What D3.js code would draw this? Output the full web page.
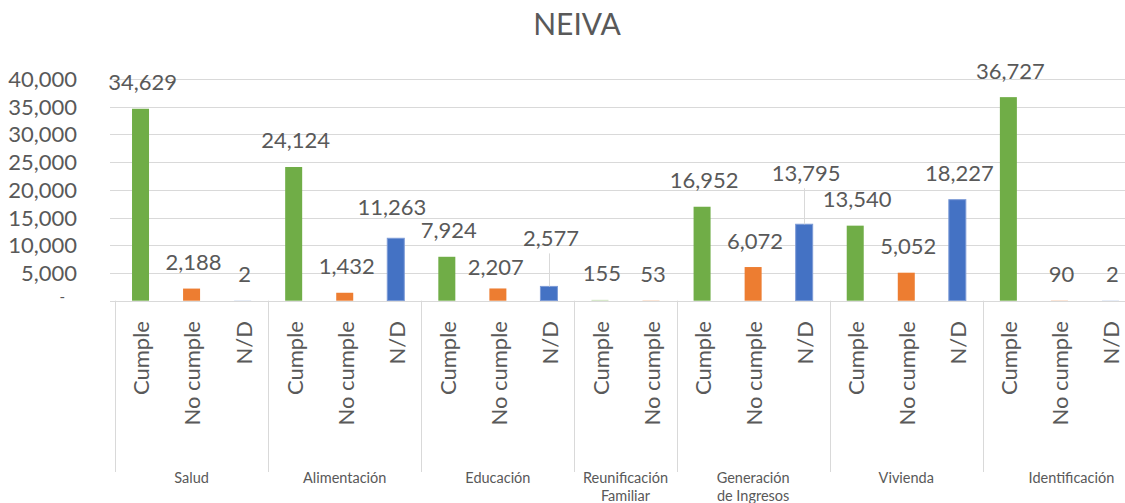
<!DOCTYPE html>
<html>
<head>
<meta charset="utf-8">
<script src="https://cdn.jsdelivr.net/npm/d3@7/dist/d3.min.js"></script>
<style>
  html, body { margin: 0; padding: 0; background: #fff; }
  svg { display: block; font-family: Lato, "Open Sans", sans-serif; }
</style>
</head>
<body>
<svg id="chart" width="1125" height="503"></svg>
<script>
// ---- data ----
const title = "NEIVA";
const categories = ["Salud", "Alimentación", "Educación", "Reunificación Familiar", "Generación de Ingresos", "Vivienda", "Identificación"];
const categoryLines = [["Salud"], ["Alimentación"], ["Educación"], ["Reunificación", "Familiar"], ["Generación", "de Ingresos"], ["Vivienda"], ["Identificación"]];
const statuses = ["Cumple", "No cumple", "N/D"];
const cumple   = [34629, 24124, 7924, 155, 16952, 13540, 36727];
const noCumple = [2188, 1432, 2207, 53, 6072, 5052, 90];
const nd       = [2, 11263, 2577, null, 13795, 18227, 2];
const yTicks   = [0, 5000, 10000, 15000, 20000, 25000, 30000, 35000, 40000];

// ---- styling ----
const colors = { "Cumple": "#70AD47", "No cumple": "#ED7D31", "N/D": "#4472C4" };
const textColor = "#595959";
const gridColor = "#D9D9D9";
// manual label adjustments (as moved in the original)
const labelNudge = {
  "Alimentación|N/D": { dx: -6, dy: -4.5 },
  "Educación|No cumple": { dx: -4, dy: 5.5 },
  "Educación|N/D": { dx: 0, dy: -21.5, leader: true },
  "Generación de Ingresos|N/D": { dx: 0, dy: -24.5, leader: true }
};
const groupLabelNudge = { "Identificación": 12 };

// ---- build flat bars ----
const seriesVals = { "Cumple": cumple, "No cumple": noCumple, "N/D": nd };
const bars = [];
categories.forEach((c, i) => {
  statuses.forEach(s => {
    const v = seriesVals[s][i];
    if (v !== null && v !== undefined) bars.push({ cat: c, ci: i, status: s, value: v, key: c + "|" + s });
  });
});

const svg = d3.select("#chart");
const plotLeft = 115, plotRight = 1136, plotTop = 79, plotBottom = 300.7;

const x = d3.scaleBand().domain(bars.map(d => d.key)).range([plotLeft, plotRight])
  .paddingInner(0.667).paddingOuter(0.3335);
const y = d3.scaleLinear().domain([0, 40000]).range([plotBottom, plotTop]);

// title
svg.append("text").attr("x", 577).attr("y", 35).attr("text-anchor", "middle")
  .attr("font-size", 30).attr("fill", textColor).text(title);

// gridlines
svg.append("g").selectAll("line").data(yTicks.filter(t => t > 0)).join("line")
  .attr("x1", 110).attr("x2", 1125)
  .attr("y1", d => Math.round(y(d)) + 0.5).attr("y2", d => Math.round(y(d)) + 0.5)
  .attr("stroke", gridColor).attr("stroke-width", 1);

// y axis labels
const yAxis = d3.axisLeft(y).tickValues(yTicks).tickSize(0).tickPadding(0)
  .tickFormat(d => d === 0 ? "-" : d3.format(",")(d));
const yg = svg.append("g").attr("transform", "translate(77,0)").call(yAxis);
yg.select(".domain").remove();
yg.selectAll("text").attr("font-size", 22).attr("fill", textColor)
  .attr("font-family", "Lato, 'Open Sans', sans-serif").attr("dy", "0.34em");
yg.selectAll(".tick").filter(d => d === 0).select("text")
  .attr("x", -12).attr("font-size", 15).attr("dy", "0.05em");

// bars
svg.append("g").selectAll("rect").data(bars).join("rect")
  .attr("x", d => x(d.key)).attr("width", x.bandwidth())
  .attr("y", d => y(d.value)).attr("height", d => Math.max(0.5, y(0) - y(d.value)))
  .attr("fill", d => colors[d.status])
  .attr("fill-opacity", d => (y(0) - y(d.value)) < 1 ? 0.4 : 1)
  .attr("stroke", d => d.status === "N/D" && (y(0) - y(d.value)) > 2 ? "#7d9bd6" : "none")
  .attr("stroke-width", 1);

// axis line
svg.append("line").attr("x1", 110).attr("x2", 1125)
  .attr("y1", Math.round(plotBottom) + 0.5).attr("y2", Math.round(plotBottom) + 0.5)
  .attr("stroke", gridColor).attr("stroke-width", 1.2);

// leader lines + data labels
const lbl = svg.append("g");
bars.forEach(d => {
  const n = labelNudge[d.key] || { dx: 0, dy: 0 };
  const cx = x(d.key) + x.bandwidth() / 2;
  const base = y(d.value) - 18.5 + n.dy;
  if (n.leader) {
    lbl.append("line").attr("x1", Math.round(cx) + 0.5).attr("x2", Math.round(cx) + 0.5)
      .attr("y1", base + 7).attr("y2", y(d.value))
      .attr("stroke", gridColor).attr("stroke-width", 1);
  }
  lbl.append("text").attr("x", cx + 2 + n.dx).attr("y", base)
    .attr("text-anchor", "middle").attr("font-size", 22).attr("fill", textColor)
    .text(d3.format(",")(d.value));
});

// rotated category labels
svg.append("g").selectAll("text").data(bars).join("text")
  .attr("transform", d => `translate(${x(d.key) + x.bandwidth() / 2 + 1},321) rotate(-90)`)
  .attr("text-anchor", "end").attr("dy", "0.36em")
  .attr("font-size", 22).attr("fill", textColor)
  .text(d => d.status);

// group separators and group labels
const groups = categories.map((c, i) => {
  const keys = bars.filter(b => b.ci === i).map(b => b.key);
  const x0 = x(keys[0]) - x.step() * x.paddingInner() / 2;
  const x1 = x(keys[keys.length - 1]) + x.bandwidth() + x.step() * x.paddingInner() / 2;
  return { c, i, x0, x1 };
});
const sepX = groups.map(g => g.x0).concat([groups[groups.length - 1].x1]);
svg.append("g").selectAll("line").data(sepX).join("line")
  .attr("x1", d => Math.round(d) + 0.5).attr("x2", d => Math.round(d) + 0.5)
  .attr("y1", plotBottom).attr("y2", 472)
  .attr("stroke", gridColor).attr("stroke-width", 1);

const gl = svg.append("g");
groups.forEach(g => {
  const cx = (g.x0 + g.x1) / 2 + (groupLabelNudge[g.c] || 0);
  const t = gl.append("text").attr("x", cx).attr("y", 483)
    .attr("text-anchor", "middle").attr("font-size", 14.5).attr("fill", textColor);
  categoryLines[g.i].forEach((line, k) => {
    t.append("tspan").attr("x", cx).attr("dy", k === 0 ? 0 : 17.5).text(line);
  });
});
</script>
</body>
</html>
